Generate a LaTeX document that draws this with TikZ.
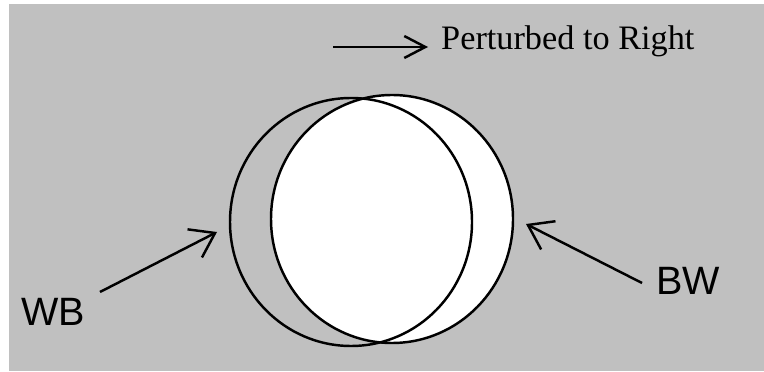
\documentclass[tikz,border=0pt]{standalone}
\usepackage{fontspec}
\setmainfont{Liberation Serif}
\newfontfamily\labelfont{Liberation Sans}
\usetikzlibrary{arrows.meta}
\definecolor{bggray}{HTML}{C0C0C0}

\begin{document}
\begin{tikzpicture}[line width=1.4pt,
    pointer/.style={-{Straight Barb[length=13pt,width=18pt]}},
    smallpointer/.style={-{Straight Barb[length=12pt,width=12.5pt]}},
    sidelabel/.style={font=\labelfont\fontsize{22.5}{24}\selectfont, inner sep=0pt, anchor=base west}]
    % 背景
    \useasboundingbox (0, 0) rectangle (15.28, 7.42);
    \fill[white] (0, 0) rectangle (15.28, 7.42);
    \fill[bggray] (0.18, 0) rectangle (15.28, 7.34);

    % 两个圆 (右圆为白色)
    \coordinate (WBc) at (7.02, 2.98);
    \coordinate (BWc) at (7.84, 3.04);
    \fill[white] (BWc) ellipse (2.42 and 2.48);
    \draw (WBc) ellipse (2.42 and 2.48);
    \draw (BWc) ellipse (2.42 and 2.48);

    % 扰动方向
    \coordinate (ptail) at (6.66, 6.48);
    \coordinate (ptip) at (8.56, 6.48);
    \node[font=\fontsize{19.5}{21}\selectfont, inner sep=0pt, anchor=base west] (pert) at (8.80, 6.43) {Perturbed to Right};
    \draw[smallpointer] (ptail) -- (ptip);

    % 标注箭头
    \node[sidelabel] (wb) at (0.40, 0.92) {WB};
    \coordinate (wbtail) at (2.00, 1.58);
    \coordinate (wbtip) at (4.34, 2.78);
    \draw[pointer] (wbtail) -- (wbtip);

    \node[sidelabel] (bw) at (13.10, 1.54) {BW};
    \coordinate (bwtail) at (12.84, 1.76);
    \coordinate (bwtip) at (10.52, 2.94);
    \draw[pointer] (bwtail) -- (bwtip);
\end{tikzpicture}
\end{document}
